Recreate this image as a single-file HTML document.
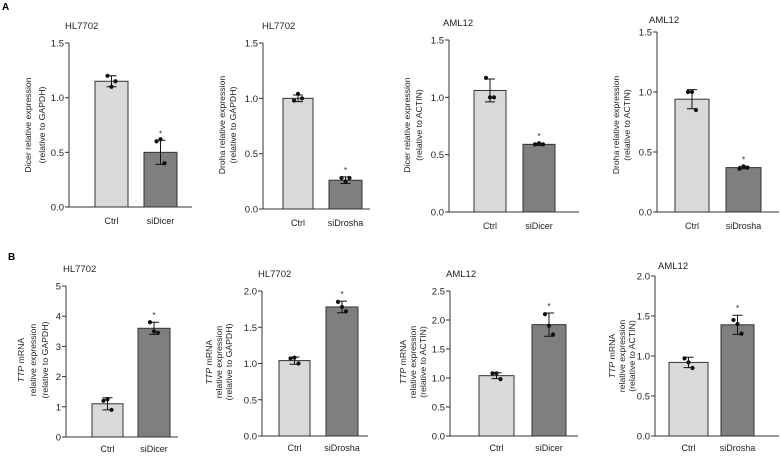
<!DOCTYPE html>
<html><head><meta charset="utf-8"><style>
body{margin:0;background:#fff;}
svg{display:block;font-family:"Liberation Sans",Arial,sans-serif;}
</style></head><body>
<svg id="fig" width="782" height="458" viewBox="0 0 782 458" xmlns="http://www.w3.org/2000/svg">
<text x="2" y="10" font-size="10" font-weight="bold">A</text>
<text x="8" y="260" font-size="10" font-weight="bold">B</text>
</svg>
<script>
// ---- data ----
const panelTitles = ["HL7702","HL7702","AML12","AML12","HL7702","HL7702","AML12","AML12"];
const categories = [["Ctrl","siDicer"],["Ctrl","siDrosha"],["Ctrl","siDicer"],["Ctrl","siDrosha"],["Ctrl","siDicer"],["Ctrl","siDrosha"],["Ctrl","siDicer"],["Ctrl","siDrosha"]];
const yLabels = [["Dicer relative expression","(relative to GAPDH)"],["Droha relative expression","(relative to GAPDH)"],["Dicer relative expression","(relative to ACTIN)"],["Droha relative expression","(relative to ACTIN)"],["TTP mRNA","relative expression","(relative to GAPDH)"],["TTP mRNA","relative expression","(relative to GAPDH)"],["TTP mRNA","relative expression","(relative to ACTIN)"],["TTP mRNA","relative expression","(relative to ACTIN)"]];
const yTicks = [[0,0.5,1.0,1.5],[0,0.5,1.0,1.5],[0,0.5,1.0,1.5],[0,0.5,1.0,1.5],[0,1,2,3,4,5],[0,0.5,1.0,1.5,2.0],[0,0.5,1.0,1.5,2.0,2.5],[0,0.5,1.0,1.5,2.0]];
const tickDecimals = [1,1,1,1,0,1,1,1];
const ctrlMeans = [1.15,1.0,1.06,0.94,1.1,1.04,1.04,0.92];
const treatMeans = [0.5,0.26,0.59,0.37,3.6,1.78,1.92,1.39];
const ctrlPoints = [[1.2,1.1,1.15],[0.98,1.04,1.0],[1.17,1.0,1.0],[1.0,1.0,0.85],[1.2,1.25,0.9],[1.07,1.08,1.0],[1.08,1.08,0.98],[0.97,0.92,0.85]];
const treatPoints = [[0.6,0.62,0.4],[0.28,0.25,0.28],[0.59,0.6,0.59],[0.36,0.38,0.37],[3.8,3.5,3.45],[1.85,1.78,1.72],[2.1,1.9,1.75],[1.45,1.4,1.28]];
const ctrlSD = [0.05,0.03,0.1,0.08,0.2,0.05,0.05,0.065];
const treatSD = [0.11,0.03,0.01,0.01,0.2,0.08,0.2,0.12];
// ---- layout (pixels) ----
const L = [
 {ax:69,top:43,bot:207,b1:[95,128],b2:[144,177],xe:192,tx:65,ty:29,lx:31,sp:14,ly:125,cy:224},
 {ax:263,top:43,bot:209,b1:[283,313],b2:[329,362],xe:370,tx:262,ty:29,lx:225,sp:11,ly:125,cy:226},
 {ax:449,top:40,bot:212,b1:[474,506],b2:[523,555],xe:579,tx:443,ty:26,lx:410,sp:12,ly:125,cy:229},
 {ax:657,top:32,bot:212,b1:[675,709],b2:[726,761],xe:779,tx:649,ty:23,lx:619,sp:11,ly:125,cy:229},
 {ax:66,top:286,bot:437,b1:[92,123],b2:[138,170],xe:178,tx:63,ty:272,lx:24,sp:12,ly:360,cy:452},
 {ax:262,top:291,bot:436,b1:[279,310],b2:[326,358],xe:368,tx:258,ty:277,lx:212,sp:10,ly:362,cy:451},
 {ax:450,top:291,bot:436,b1:[479,514],b2:[532,566],xe:578,tx:446,ty:277,lx:406,sp:10,ly:362,cy:451},
 {ax:655,top:276,bot:436,b1:[669,708],b2:[721,754],xe:779,tx:658,ty:269,lx:615,sp:10,ly:356,cy:451}
];
const svg = document.getElementById('fig');
const NS = "http://www.w3.org/2000/svg";
function mk(tag, attrs, parent){const e=document.createElementNS(NS,tag);for(const k in attrs)e.setAttribute(k,attrs[k]);(parent||svg).appendChild(e);return e;}
for(let p=0;p<8;p++){
  const g=L[p];
  const grp=mk('g',{});
  
  
  const ymax=yTicks[p][yTicks[p].length-1];
  const y=v=>g.bot-(v/ymax)*(g.bot-g.top);
  const t=mk('text',{x:g.tx,y:g.ty,'font-size':9.5,fill:'#222'},grp);t.textContent=panelTitles[p];
  
  
  const bars=[[g.b1,ctrlMeans[p],ctrlSD[p],ctrlPoints[p],'#d9d9d9'],[g.b2,treatMeans[p],treatSD[p],treatPoints[p],'#7f7f7f']];
  bars.forEach((b,i)=>{
    const [xr,m,sd,pts,col]=b;
    const r=mk('rect',{x:xr[0],y:y(m),width:xr[1]-xr[0],height:g.bot-y(m),fill:col,stroke:'#333','stroke-width':1},grp);
    
    
    const cx=(xr[0]+xr[1])/2;
    const e=mk('path',{d:`M${cx},${y(m-sd)}V${y(m+sd)}M${cx-5},${y(m+sd)}H${cx+5}M${cx-5},${y(m-sd)}H${cx+5}`,stroke:'#111','stroke-width':1,fill:'none'},grp);
    
    
    pts.forEach((v,k)=>{
      const c=mk('circle',{cx:cx+(k-1)*4,cy:y(v),r:2.1,fill:'#111'},grp);
      
      
    });
    if(i===1){const s=mk('text',{x:cx,y:y(m+sd)-4,'font-size':8,'text-anchor':'middle',fill:'#222'},grp);s.textContent='*';
      
      }
    const lb=mk('text',{x:cx,y:g.cy,'font-size':9,'text-anchor':'middle',fill:'#222'},grp);lb.textContent=categories[p][i];
    
    
  });
  const a=mk('path',{d:`M${g.ax},${g.top}V${g.bot}H${g.xe}`,stroke:'#333','stroke-width':1,fill:'none'},grp);
  
  
  yTicks[p].forEach(v=>{
    mk('line',{x1:g.ax-4,x2:g.ax,y1:y(v),y2:y(v),stroke:'#333'},grp);
    const tl=mk('text',{x:g.ax-5,y:y(v)+3.5,'font-size':9.5,'text-anchor':'end',fill:'#222'},grp);
    tl.textContent=v.toFixed(tickDecimals[p]);
    
    
  });
  yLabels[p].forEach((s,k)=>{
    const x=g.lx+k*g.sp;
    const tl=mk('text',{x:x,y:g.ly,'font-size':8.7,'text-anchor':'middle',fill:'#222',transform:`rotate(-90 ${x} ${g.ly})`},grp);
    if(s.startsWith('TTP')){const it=mk('tspan',{'font-style':'italic'},tl);it.textContent='TTP';const r=mk('tspan',{},tl);r.textContent='  mRNA';}
    else tl.textContent=s;
    
    
  });
}
</script>
</body></html>
